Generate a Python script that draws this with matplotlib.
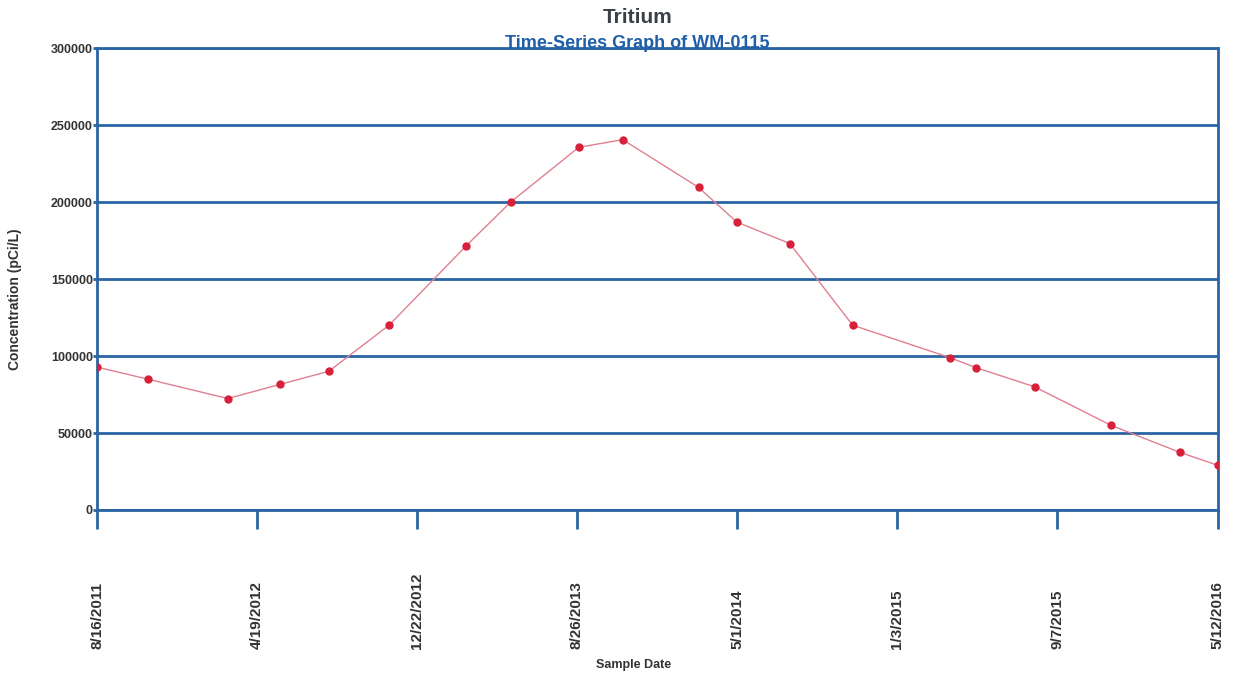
import matplotlib
matplotlib.use('Agg')
import matplotlib.pyplot as plt
import pandas as pd

plt.rcParams['font.family'] = ['Liberation Sans', 'DejaVu Sans']

# sample dates and tritium concentration (pCi/L)
dates = ['2011-08-16', '2011-11-03', '2012-03-05', '2012-05-25', '2012-08-08',
         '2012-11-09', '2013-03-08', '2013-05-16', '2013-08-29', '2013-11-05',
         '2014-03-02', '2014-04-30', '2014-07-21', '2014-10-26', '2015-03-25',
         '2015-05-04', '2015-08-03', '2015-11-29', '2016-03-14', '2016-05-12']
conc = [92800, 84900, 72400, 81600, 90100,
        120000, 171500, 200000, 235500, 240500,
        209500, 187000, 173000, 120000, 99000,
        92500, 80000, 55000, 37500, 29000]

tick_dates = ['2011-08-16', '2012-04-19', '2012-12-22', '2013-08-26',
              '2014-05-01', '2015-01-03', '2015-09-07', '2016-05-12']
tick_labels = ['8/16/2011', '4/19/2012', '12/22/2012', '8/26/2013',
               '5/1/2014', '1/3/2015', '9/7/2015', '5/12/2016']
y_ticks = [0, 50000, 100000, 150000, 200000, 250000, 300000]

blue = '#2a64a4'

x = pd.to_datetime(dates)
xt = pd.to_datetime(tick_dates)

fig = plt.figure(figsize=(12.33, 6.80), dpi=100)
ax = fig.add_axes([0.0787, 0.25, 0.909, 0.6794])

ax.plot(x, conc, color='#e08090', lw=1.0, zorder=3)
ax.plot(x, conc, ls='none', marker='o', ms=5, color='#d8203a', zorder=4)

ax.set_xlim(xt[0], xt[-1])
ax.set_ylim(0, 300000)
ax.set_yticks(y_ticks)
ax.set_yticklabels([str(v) for v in y_ticks], fontsize=9, fontweight='bold', color='#333333')
ax.set_xticks(xt)
ax.set_xticklabels(tick_labels, rotation=90, fontsize=11, fontweight='bold', color='#333333')
for lbl in ax.get_xticklabels():
    lbl.set_va('bottom')

ax.grid(axis='y', color=blue, lw=2)
ax.set_axisbelow(True)
for s in ax.spines.values():
    s.set_color(blue)
    s.set_linewidth(2)
ax.tick_params(axis='x', length=14, width=2, color=blue, pad=86, direction='out')
ax.tick_params(axis='y', length=3, width=2, color=blue, pad=0)

fig.text(0.012, 0.56, 'Concentration (pCi/L)', fontsize=10, fontweight='bold',
         color='#333333', rotation=90, ha='center', va='center')
fig.text(0.514, 0.018, 'Sample Date', fontsize=9, fontweight='bold', color='#333333', ha='center')

fig.text(0.517, 0.974, 'Tritium', fontsize=15, fontweight='bold', color='#3a3f46',
         ha='center', va='center')
fig.text(0.517, 0.936, 'Time-Series Graph of WM-0115', fontsize=13, fontweight='bold',
         color='#1f5fa8', ha='center', va='center')

fig.savefig('out.png', dpi=100)
